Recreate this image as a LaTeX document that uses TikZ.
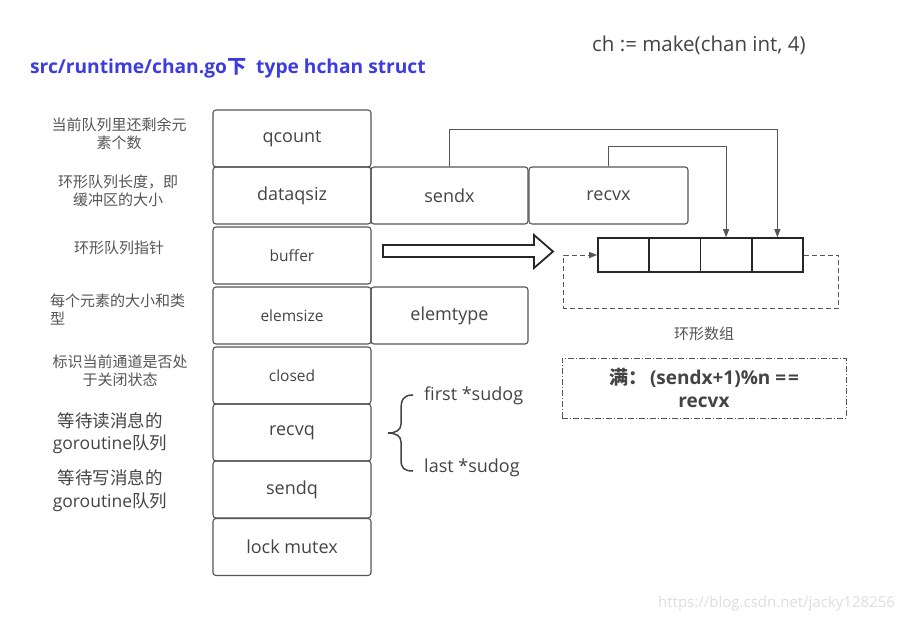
\documentclass[tikz,border=0pt]{standalone}
\usepackage{fontspec}
\setmainfont{Open Sans}
\newfontfamily\cjk{Noto Sans CJK SC}
\usetikzlibrary{arrows.meta}
\definecolor{bord}{HTML}{555555}
\definecolor{txt}{HTML}{444444}
\definecolor{lbl}{HTML}{555555}
\definecolor{ttl}{HTML}{3C3CE0}
\newcommand\fs[2]{\fontsize{#1}{#2}\selectfont}
\begin{document}
\begin{tikzpicture}[x=1pt,y=-1pt,
  field/.style={draw=bord, line width=1.1pt, rounded corners=3pt, minimum width=158pt, minimum height=57pt, inner sep=0pt, text=txt, font=\fs{18}{21}},
  fieldsm/.style={field, font=\fs{15.5}{19}},
  lab/.style={text=lbl, align=center, font=\cjk\fs{15}{18}, inner sep=0pt},
  glab/.style={text=txt, align=center, font=\fs{17.5}{22.5}, inner sep=0pt},
  cell/.style={draw=black!85, line width=1.6pt, minimum width=51.3pt, minimum height=34pt, inner sep=0pt},
  link/.style={draw=bord, line width=0.9pt, -{Triangle[length=8pt,width=6pt]}},
  plain/.style={inner sep=0pt, text=txt}
]
\fill[white] (0,0) rectangle (903,622);
\useasboundingbox (0,0) rectangle (903,622);

% title and header
\node[plain, anchor=west, text=ttl, font=\bfseries\fs{19.2}{23}] (title) at (30,68) {src/runtime/chan.go{\cjk 下}\ \ type hchan struct};
\node[plain, anchor=west, font=\fs{20.5}{24}] (make) at (592,45) {ch := make(chan int, 4)};

% struct fields
\node[field] (qcount) at (292,138.5) {qcount};
\node[field] (dataqsiz) at (292,195.5) {dataqsiz};
\node[fieldsm] (buffer) at (292,255.5) {buffer};
\node[fieldsm] (elemsize) at (292,315.5) {elemsize};
\node[fieldsm] (closed) at (292,375.5) {closed};
\node[field] (recvq) at (292,432.5) {recvq};
\node[field] (sendq) at (292,489.5) {sendq};
\node[field] (lockm) at (292,547) {lock mutex};
\node[field, minimum width=157pt] (sendx) at (449.5,195.5) {sendx};
\node[field, minimum width=159pt] (recvx) at (608.5,195.5) {recvx};
\node[field, minimum width=157pt] (elemtype) at (449.5,315.5) {elemtype};

% left labels
\node[lab] (l1) at (119,133.5) {当前队列里还剩余元\\素个数};
\node[lab] (l2) at (118,191) {环形队列长度，即\\缓冲区的大小};
\node[lab] (l3) at (119,248) {环形队列指针};
\node[lab, align=left, anchor=west] (l4) at (50,309.5) {每个元素的大小和类\\型};
\node[lab] (l5) at (120,370.5) {标识当前通道是否处\\于关闭状态};
\node[glab] (l6) at (110,433) {{\cjk 等待读消息的}\\goroutine{\cjk 队列}};
\node[glab] (l7) at (110,490.5) {{\cjk 等待写消息的}\\goroutine{\cjk 队列}};

% buffer arrow
\draw[line width=1.8pt, draw=black!85, fill=white] (383,245) -- (534,245) -- (534,235) -- (553,251.5) -- (534,268) -- (534,257) -- (383,257) -- cycle;

% ring array
\node[cell] (c1) at (623.6,255) {};
\node[cell] (c2) at (674.9,255) {};
\node[cell] (c3) at (726.1,255) {};
\node[cell] (c4) at (777.4,255) {};

\draw[link] (sendx.north) -- ++(0,-37) -| (c4.north);
\draw[link] (recvx.north) -- ++(0,-20) -| (c3.north);
\draw[link, dash pattern=on 5pt off 3pt] (c4.east) -- ++(35,0) -- ++(0,53) -- ++(-275,0) -- ++(0,-53) -- (c1.west);

\node[lab] (ringlbl) at (704,334) {环形数组};
\node[draw=bord, line width=0.9pt, dash pattern=on 6pt off 2pt on 1pt off 2pt, minimum width=284pt, minimum height=60pt, align=center, text=txt, font=\bfseries\fs{19}{23}] (full) at (704,388) {{\cjk 满：}\kern3pt(sendx+1)\%n =\kern2pt=\\recvx};

% brace and sudog
\draw[draw=txt, line width=1.5pt] (413,395) .. controls (403,395) and (401,400) .. (401,410) -- (401,424) .. controls (401,430) and (396,433) .. (388,433) .. controls (396,433) and (401,436) .. (401,442) -- (401,460) .. controls (401,468) and (404,471) .. (413,471);
\node[plain, anchor=west, font=\fs{18}{21}] (first) at (424,396) {first *sudog};
\node[plain, anchor=west, font=\fs{18}{21}] (last) at (424,468) {last *sudog};

% watermark
\node[plain, anchor=west, text=black!13, font=\fs{15}{17}] (wm) at (658,604) {https://blog.csdn.net/jacky128256};
\end{tikzpicture}
\end{document}
